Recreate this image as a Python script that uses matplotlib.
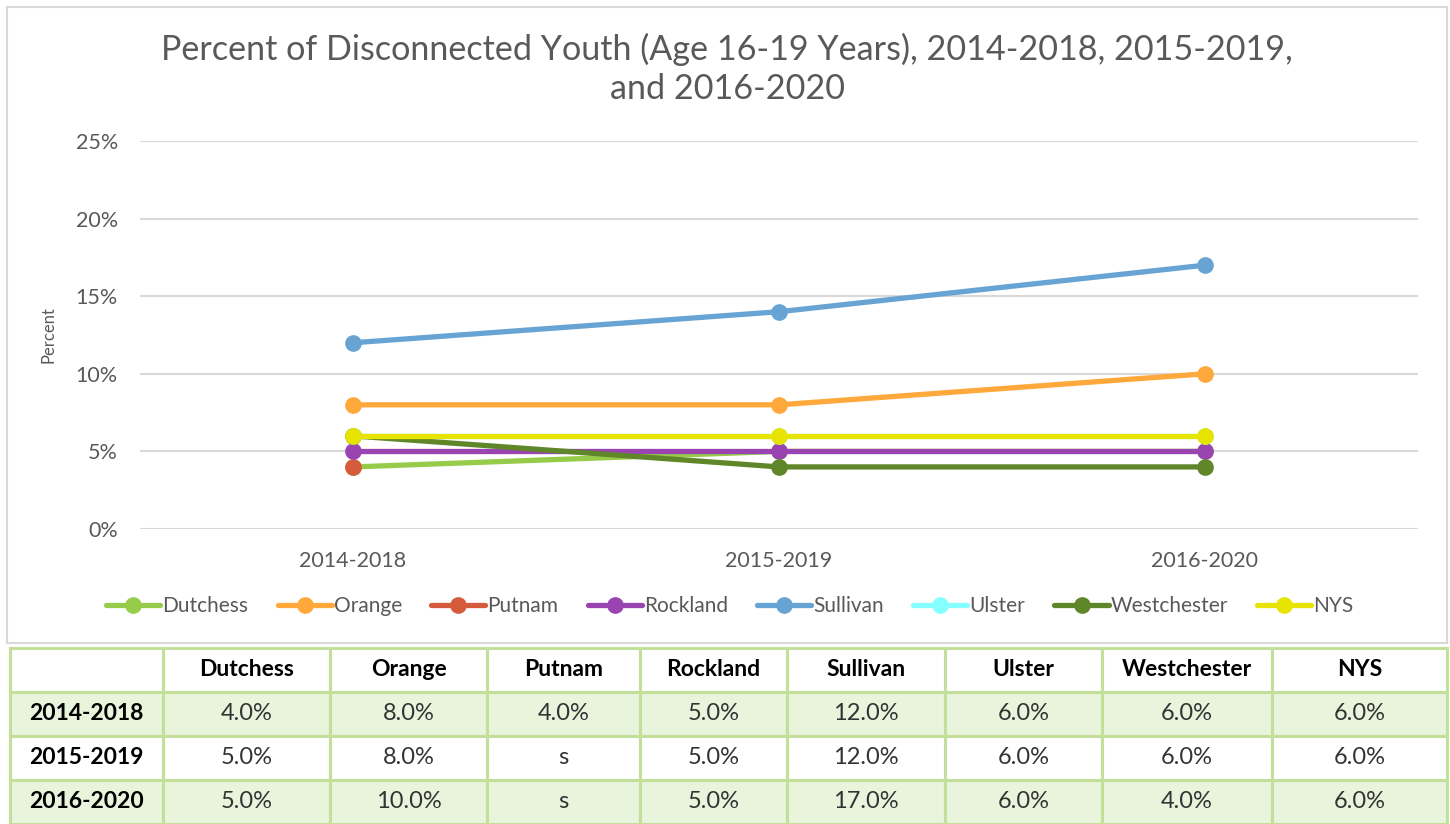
import numpy as np
import matplotlib.pyplot as plt
from matplotlib.patches import Rectangle

plt.rcParams['font.family'] = ['Lato', 'DejaVu Sans']

periods = ['2014-2018', '2015-2019', '2016-2020']
counties = ['Dutchess', 'Orange', 'Putnam', 'Rockland', 'Sullivan', 'Ulster', 'Westchester', 'NYS']
colors = ['#97cc4a', '#ffa83c', '#d65b3c', '#9a44b2', '#68a4d3', '#86ffff', '#5f8628', '#e6e400']

# values as plotted in the chart (percent)
dutchess = [4, 5, 5]
orange = [8, 8, 10]
putnam = [4, np.nan, np.nan]
rockland = [5, 5, 5]
sullivan = [12, 14, 17]
ulster = [6, 6, 6]
westchester = [6, 4, 4]
nys = [6, 6, 6]
series = [dutchess, orange, putnam, rockland, sullivan, ulster, westchester, nys]

# values as printed in the table underneath
table_rows = [
    ['4.0%', '8.0%', '4.0%', '5.0%', '12.0%', '6.0%', '6.0%', '6.0%'],
    ['5.0%', '8.0%', 's', '5.0%', '12.0%', '6.0%', '6.0%', '6.0%'],
    ['5.0%', '10.0%', 's', '5.0%', '17.0%', '6.0%', '4.0%', '6.0%'],
]

W, H = 1450, 824
fig = plt.figure(figsize=(W / 100, H / 100), dpi=100)

# chart border
fig.patches.append(Rectangle((7 / W, 1 - 643 / H), 1440 / W, 636 / H, transform=fig.transFigure,
                             fill=False, edgecolor='#d9d9d9', linewidth=1.5))

ax = fig.add_axes([140 / W, 1 - 529 / H, 1278 / W, 388 / H])
x = np.arange(len(periods))
for name, vals, c in zip(counties, series, colors):
    ax.plot(x, vals, color=c, linewidth=3.8, marker='o', markersize=11, label=name,
            solid_capstyle='round')

ax.set_xlim(-0.5, 2.5)
ax.set_ylim(0, 25)
ax.set_yticks(range(0, 26, 5))
ax.set_yticklabels([f'{v}%' for v in range(0, 26, 5)])
ax.set_xticks(x)
ax.set_xticklabels(periods)
ax.tick_params(length=0, labelsize=15.5, colors='#595959', pad=16)
ax.tick_params(axis='x', pad=16)
ax.grid(axis='y', color='#d9d9d9', linewidth=1.5)
ax.set_axisbelow(True)
for s in ax.spines.values():
    s.set_visible(False)
ax.set_ylabel('Percent', fontsize=12, color='#595959', labelpad=14)

fig.text(727 / W, 1 - 69 / H,
         'Percent of Disconnected Youth (Age 16-19 Years), 2014-2018, 2015-2019,\nand 2016-2020',
         ha='center', va='center', fontsize=24.6, color='#595959', linespacing=1.25)

fig.legend(loc='center', bbox_to_anchor=(730 / W, 1 - 606 / H), ncol=8, frameon=False,
           fontsize=15, handlelength=2.6, handletextpad=0.1, columnspacing=1.4,
           labelcolor='#595959')

# table
tax = fig.add_axes([10 / W, 0, 1437 / W, 176 / H])
tax.axis('off')
edges = [10, 163, 330, 487, 640, 787, 945, 1102, 1272, 1447]
widths = np.diff(edges) / (edges[-1] - edges[0])
cell_text = [[''] + counties] + [[p] + r for p, r in zip(periods, table_rows)]
fills = ['white', '#e9f4dc', 'white', '#e9f4dc']
cell_colours = [[f] * 9 for f in fills]
tbl = tax.table(cellText=cell_text, cellColours=cell_colours, colWidths=list(widths),
                cellLoc='center', bbox=[0, 0, 1, 1])
tbl.auto_set_font_size(False)
for (r, c), cell in tbl.get_celld().items():
    cell.set_edgecolor('#c3e09a')
    cell.set_linewidth(2.2)
    t = cell.get_text()
    if r == 0 or c == 0:
        t.set_fontsize(16.5)
        t.set_fontweight('bold')
        t.set_color('black')
    else:
        t.set_fontsize(17)
        t.set_color('#333333')

fig.savefig('out.png', dpi=100)
